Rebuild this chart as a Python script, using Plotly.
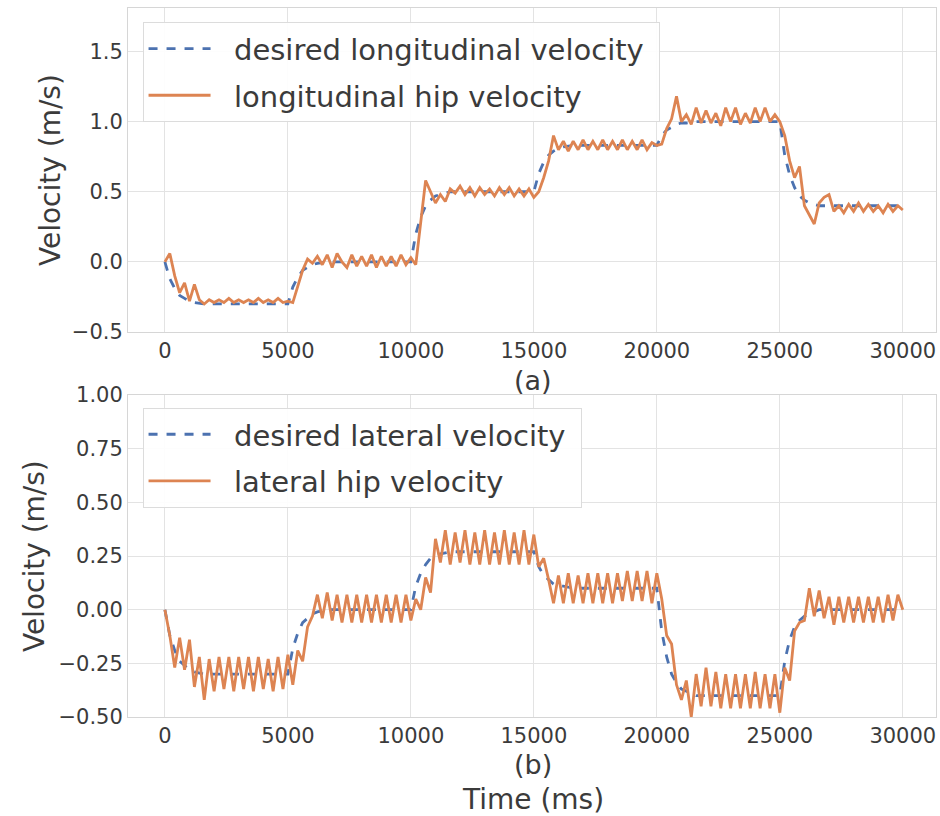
import plotly.graph_objects as go

# ---------------- data ----------------
time_ms = list(range(0, 30001, 200))

desired_t = [0, 200, 400, 600, 800, 1000, 1200, 1600,
             5000, 5200, 5400, 5600, 5800, 6000, 6200, 6600,
             10000, 10200, 10400, 10600, 10800, 11000, 11200, 11600,
             15000, 15200, 15400, 15600, 15800, 16000, 16200, 16600,
             20000, 20200, 20400, 20600, 20800, 21000, 21200, 21600,
             25000, 25200, 25400, 25600, 25800, 26000, 26200, 26600,
             30000]

desired_lon = [0.0, -0.12, -0.19, -0.24, -0.26, -0.28, -0.29, -0.3,
               -0.3, -0.18, -0.11, -0.06, -0.04, -0.02, -0.01, 0.0,
               0.0, 0.2, 0.32, 0.4, 0.44, 0.47, 0.48, 0.5,
               0.5, 0.63, 0.71, 0.76, 0.79, 0.81, 0.82, 0.83,
               0.83, 0.9, 0.94, 0.96, 0.98, 0.99, 0.99, 1.0,
               1.0, 0.76, 0.62, 0.53, 0.47, 0.44, 0.42, 0.4,
               0.4]

desired_lat = [0.0, -0.12, -0.19, -0.24, -0.26, -0.28, -0.29, -0.3,
               -0.3, -0.18, -0.11, -0.06, -0.04, -0.02, -0.01, 0.0,
               0.0, 0.11, 0.17, 0.21, 0.24, 0.25, 0.26, 0.27,
               0.27, 0.2, 0.16, 0.14, 0.12, 0.11, 0.11, 0.1,
               0.1, -0.1, -0.22, -0.3, -0.34, -0.37, -0.38, -0.4,
               -0.4, -0.24, -0.14, -0.08, -0.05, -0.03, -0.02, 0.0,
               0.0]

hip_lon = [
    0.0, 0.06, -0.1, -0.22, -0.15, -0.28, -0.16, -0.27, -0.3, -0.27,
    -0.29, -0.27, -0.29, -0.26, -0.29, -0.27, -0.29, -0.27, -0.29, -0.26,
    -0.29, -0.27, -0.29, -0.26, -0.29,
    -0.28, -0.29, -0.18, -0.06, 0.02, -0.01, 0.04, -0.02, 0.05, -0.04,
    0.06, 0.0, -0.04, 0.05, -0.03, 0.04, -0.03, 0.05, -0.04, 0.04,
    -0.03, 0.04, -0.03, 0.05, -0.02,
    0.03, -0.02, 0.3, 0.58, 0.5, 0.42, 0.48, 0.43, 0.52, 0.49,
    0.54, 0.48, 0.53, 0.47, 0.53, 0.48, 0.52, 0.47, 0.53, 0.48,
    0.53, 0.47, 0.52, 0.47, 0.52,
    0.46, 0.5, 0.6, 0.72, 0.9, 0.8, 0.86, 0.79, 0.86, 0.8,
    0.87, 0.8, 0.86, 0.8, 0.87, 0.8, 0.86, 0.8, 0.87, 0.8,
    0.86, 0.8, 0.87, 0.8, 0.85,
    0.83, 0.84, 0.95, 1.02, 1.18, 1.0, 1.05, 0.98, 1.1, 0.99,
    1.08, 0.99, 1.06, 0.97, 1.1, 1.0, 1.1, 0.98, 1.06, 0.99,
    1.1, 1.0, 1.1, 1.0, 1.05,
    1.0, 0.9, 0.72, 0.6, 0.68, 0.4, 0.33, 0.27, 0.42, 0.46,
    0.48, 0.36, 0.4, 0.35, 0.41, 0.36, 0.42, 0.36, 0.41, 0.36,
    0.4, 0.35, 0.41, 0.36, 0.4,
    0.37]

hip_lat = [
    0.0, -0.12, -0.27, -0.13, -0.28, -0.14, -0.36, -0.22, -0.42, -0.23,
    -0.38, -0.22, -0.37, -0.22, -0.38, -0.22, -0.37, -0.22, -0.38, -0.22,
    -0.37, -0.23, -0.38, -0.22, -0.37,
    -0.21, -0.35, -0.19, -0.24, -0.08, -0.03, 0.07, -0.04, 0.08, -0.05,
    0.07, -0.06, 0.07, -0.06, 0.07, -0.06, 0.07, -0.06, 0.07, -0.06,
    0.07, -0.06, 0.07, -0.06, 0.07,
    -0.05, 0.05, 0.0, 0.15, 0.08, 0.33, 0.22, 0.37, 0.21, 0.36,
    0.22, 0.37, 0.21, 0.36, 0.21, 0.37, 0.21, 0.36, 0.21, 0.37,
    0.21, 0.36, 0.21, 0.37, 0.21,
    0.35, 0.2, 0.24, 0.14, 0.03, 0.16, 0.03, 0.17, 0.03, 0.16,
    0.03, 0.17, 0.03, 0.17, 0.03, 0.17, 0.03, 0.17, 0.04, 0.18,
    0.04, 0.18, 0.04, 0.18, 0.03,
    0.17, 0.05, -0.12, -0.16, -0.35, -0.42, -0.33, -0.5, -0.3, -0.45,
    -0.27, -0.45, -0.29, -0.46, -0.3, -0.46, -0.3, -0.46, -0.3, -0.46,
    -0.29, -0.46, -0.3, -0.46, -0.3,
    -0.48, -0.27, -0.33, -0.1, -0.06, -0.05, 0.1, -0.03, 0.09, -0.04,
    0.06, -0.07, 0.06, -0.06, 0.06, -0.06, 0.06, -0.06, 0.06, -0.06,
    0.06, -0.06, 0.07, -0.05, 0.07,
    0.0]

x_ticks = [0, 5000, 10000, 15000, 20000, 25000, 30000]
x_ticklabels = ["0", "5000", "10000", "15000", "20000", "25000", "30000"]
lon_ticks = [-0.5, 0.0, 0.5, 1.0, 1.5]
lat_ticks = [-0.5, -0.25, 0.0, 0.25, 0.5, 0.75, 1.0]

# ---------------- styling ----------------
BLUE = "#4c72b0"
ORANGE = "#dd8452"
FONT = "DejaVu Sans"
TXT = "#3b3b3b"
GRID = "#e3e3e3"
EDGE = "#d6d6d6"
PAD = "\u00a0\u00a0"

fig = go.Figure()

fig.add_trace(go.Scatter(x=desired_t, y=desired_lon, mode="lines",
                         name=PAD + "desired longitudinal velocity\u00a0",
                         line=dict(color=BLUE, width=2.8, dash="dash"),
                         xaxis="x", yaxis="y", legend="legend",
                         legendgroup="a1"))
fig.add_trace(go.Scatter(x=time_ms, y=hip_lon, mode="lines",
                         name=PAD + "longitudinal hip velocity",
                         line=dict(color=ORANGE, width=2.8),
                         xaxis="x", yaxis="y", legend="legend",
                         legendgroup="a2"))
fig.add_trace(go.Scatter(x=desired_t, y=desired_lat, mode="lines",
                         name=PAD + "desired lateral velocity\u00a0",
                         line=dict(color=BLUE, width=2.8, dash="dash"),
                         xaxis="x2", yaxis="y2", legend="legend2",
                         legendgroup="b1"))
fig.add_trace(go.Scatter(x=time_ms, y=hip_lat, mode="lines",
                         name=PAD + "lateral hip velocity",
                         line=dict(color=ORANGE, width=2.8),
                         xaxis="x2", yaxis="y2", legend="legend2",
                         legendgroup="b2"))

axis_common = dict(showgrid=True, gridcolor=GRID, gridwidth=1,
                   showline=True, linecolor=EDGE, linewidth=1, mirror=True,
                   zeroline=False, ticks="", automargin=False,
                   tickfont=dict(family=FONT, size=21, color=TXT))

legend_common = dict(bgcolor="rgba(255,255,255,0.9)", bordercolor="#dcdcdc",
                     borderwidth=1, font=dict(family=FONT, size=29, color=TXT),
                     traceorder="grouped", tracegroupgap=6, itemwidth=62,
                     xanchor="left", yanchor="top")

fig.update_layout(
    width=940, height=816, autosize=False,
    margin=dict(l=128, r=4, t=8, b=99, autoexpand=False),
    paper_bgcolor="white", plot_bgcolor="white",
    font=dict(family=FONT, color=TXT),
    xaxis=dict(domain=[0, 1], anchor="y", range=[-1500, 31350],
               tickvals=x_ticks, ticktext=x_ticklabels, **axis_common),
    yaxis=dict(domain=[0.543, 1.0], anchor="x", range=[-0.5, 1.81],
               tickvals=lon_ticks, tickformat=".1f", **axis_common),
    xaxis2=dict(domain=[0, 1], anchor="y2", range=[-1500, 31350],
                tickvals=x_ticks, ticktext=x_ticklabels, **axis_common),
    yaxis2=dict(domain=[0.0, 0.454], anchor="x2", range=[-0.5, 1.0],
                tickvals=lat_ticks, tickformat=".2f", **axis_common),
    legend=dict(x=0.018, y=0.98, **legend_common),
    legend2=dict(x=0.018, y=0.436, **legend_common),
    annotations=[
        dict(text="(a)", x=0.501, y=0.474, xref="paper", yref="paper",
             showarrow=False, font=dict(family=FONT, size=27, color=TXT),
             xanchor="center", yanchor="middle"),
        dict(text="(b)", x=0.501, y=-0.0677, xref="paper", yref="paper",
             showarrow=False, font=dict(family=FONT, size=27, color=TXT),
             xanchor="center", yanchor="middle"),
        dict(text="Time (ms)", x=0.501, y=-0.117, xref="paper", yref="paper",
             showarrow=False, font=dict(family=FONT, size=28, color=TXT),
             xanchor="center", yanchor="middle"),
        dict(text="Velocity (m/s)", x=-0.0965, y=0.7715, xref="paper",
             yref="paper", showarrow=False, textangle=-90,
             font=dict(family=FONT, size=28, color=TXT),
             xanchor="center", yanchor="middle"),
        dict(text="Velocity (m/s)", x=-0.1163, y=0.227, xref="paper",
             yref="paper", showarrow=False, textangle=-90,
             font=dict(family=FONT, size=28, color=TXT),
             xanchor="center", yanchor="middle"),
    ],
)

fig.write_html(
    "out.html",
    config={"displayModeBar": False},
    post_script="document.body.style.margin='0';document.body.style.overflow='hidden';",
)
